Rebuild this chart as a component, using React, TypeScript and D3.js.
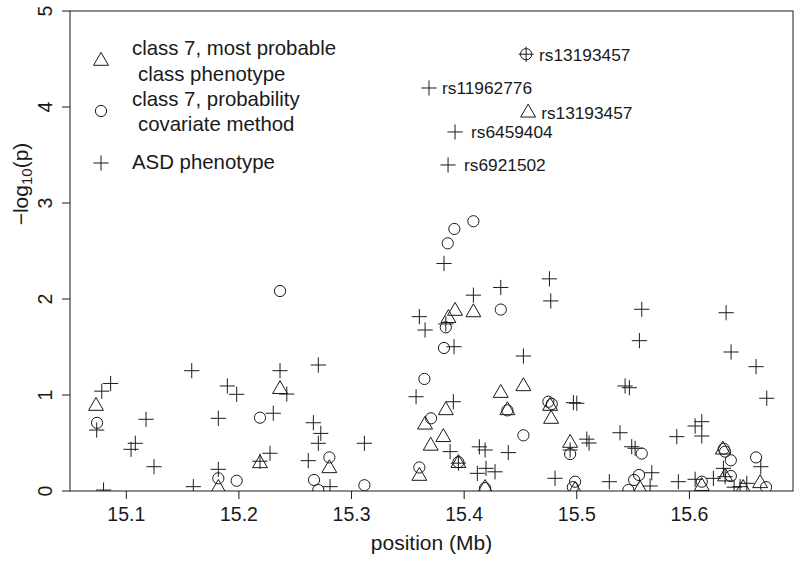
import React from "react";
import * as d3 from "d3";

// ---- data ----
const xTicks = [15.1, 15.2, 15.3, 15.4, 15.5, 15.6];
const yTicks = [0, 1, 2, 3, 4, 5];

// class 7, most probable class phenotype (triangles)
const triPos = [15.0731, 15.1817, 15.2187, 15.2365, 15.2803, 15.3919, 15.4082, 15.386, 15.3837, 15.3653, 15.3815, 15.3703, 15.3949, 15.3602, 15.4325, 15.4526, 15.4384, 15.4186, 15.4763, 15.4772, 15.4941, 15.4985, 15.4568, 15.6297, 15.6317, 15.5562, 15.611, 15.6628, 15.6477];
const triVal = [0.885, 0.03, 0.288, 1.06, 0.236, 1.875, 1.86, 1.8, 0.84, 0.69, 0.56, 0.47, 0.29, 0.156, 1.02, 1.09, 0.84, 0.03, 0.885, 0.75, 0.5, 0.01, 3.94, 0.43, 0.15, 0.02, 0.05, 0.08, 0.03];

// class 7, probability covariate method (circles)
const cirPos = [15.074, 15.1817, 15.198, 15.2187, 15.2365, 15.2803, 15.2667, 15.2705, 15.3114, 15.4082, 15.3913, 15.3854, 15.4325, 15.3837, 15.3821, 15.3647, 15.3706, 15.3949, 15.3602, 15.4384, 15.4526, 15.4186, 15.4748, 15.4778, 15.4941, 15.4985, 15.4965, 15.455, 15.5577, 15.5509, 15.5553, 15.5458, 15.6317, 15.6368, 15.6305, 15.6368, 15.6592, 15.6681, 15.611];
const cirVal = [0.71, 0.132, 0.107, 0.764, 2.083, 0.35, 0.115, 0.01, 0.06, 2.81, 2.73, 2.58, 1.89, 1.705, 1.49, 1.167, 0.757, 0.3, 0.245, 0.84, 0.58, 0.03, 0.93, 0.906, 0.385, 0.097, 0.04, 4.55, 0.39, 0.115, 0.167, 0.01, 0.41, 0.32, 0.44, 0.156, 0.35, 0.04, 0.097];

// ASD phenotype (crosses)
const asdPos = [15.0737, 15.0782, 15.0861, 15.0798, 15.1042, 15.108, 15.1175, 15.1246, 15.1581, 15.1595, 15.1817, 15.1897, 15.198, 15.1817, 15.2305, 15.2187, 15.2276, 15.2365, 15.2425, 15.2661, 15.2727, 15.2705, 15.2705, 15.2616, 15.2809, 15.3114, 15.3821, 15.4757, 15.4769, 15.4082, 15.4325, 15.3602, 15.3653, 15.3837, 15.391, 15.4526, 15.3573, 15.3904, 15.3875, 15.3949, 15.4135, 15.4186, 15.4117, 15.4194, 15.4274, 15.4392, 15.4807, 15.497, 15.5, 15.4941, 15.5089, 15.5109, 15.5577, 15.5556, 15.6326, 15.637, 15.6592, 15.6687, 15.5429, 15.5467, 15.611, 15.6051, 15.611, 15.5888, 15.5384, 15.5488, 15.5518, 15.5289, 15.5666, 15.5651, 15.5902, 15.6051, 15.6302, 15.6213, 15.6317, 15.645, 15.651, 15.6634, 15.6397, 15.3688, 15.3919, 15.3857, 15.455];
const asdVal = [0.635, 1.04, 1.12, 0.01, 0.434, 0.497, 0.747, 0.253, 1.253, 0.045, 0.757, 1.094, 1.007, 0.226, 0.81, 0.31, 0.393, 1.253, 1.01, 0.711, 0.6, 0.497, 1.3125, 0.316, 0.045, 0.497, 2.37, 2.21, 1.98, 2.04, 2.12, 1.816, 1.677, 1.74, 1.503, 1.406, 0.982, 0.93, 0.41, 0.29, 0.46, 0.427, 0.184, 0.236, 0.2, 0.4, 0.132, 0.92, 0.914, 0.427, 0.54, 0.5, 1.893, 1.566, 1.857, 1.448, 1.295, 0.966, 1.094, 1.076, 0.722, 0.677, 0.573, 0.566, 0.607, 0.461, 0.445, 0.097, 0.19, 0.052, 0.097, 0.122, 0.236, 0.132, 0.149, 0.045, 0.08, 0.253, 0.04, 4.198, 3.74, 3.396, 4.55];

// labelled SNPs
const snpNames = ["rs13193457", "rs11962776", "rs13193457", "rs6459404", "rs6921502"];
const snpPos = [15.455, 15.3688, 15.4568, 15.3919, 15.3857];
const snpVal = [4.55, 4.198, 3.94, 3.74, 3.396];

const legendLabels = [
  ["class 7, most probable", "class phenotype"],
  ["class 7, probability", "covariate method"],
  ["ASD phenotype"],
];

// ---- layout ----
const W = 800;
const H = 562;
const L = 70, R = 793, T = 11, B = 491;
const FONT = "'Liberation Sans', Arial, Helvetica, sans-serif";
const INK = "#1a1a1a";

const x = d3.scaleLinear().domain([15.05, 15.692]).range([L, R]);
const y = d3.scaleLinear().domain([0, 5]).range([B, T]);

const CR = 5.6; // circle radius
const XH = 7.6; // cross half size
const TR = 8.6; // triangle radius

const triPath = (cx: number, cy: number) => {
  const xc = TR * Math.sqrt(3) / 2;
  return `M${cx},${cy - TR}L${cx + xc},${cy + TR / 2}L${cx - xc},${cy + TR / 2}Z`;
};
const crossPath = (cx: number, cy: number) =>
  `M${cx - XH},${cy}H${cx + XH}M${cx},${cy - XH}V${cy + XH}`;

export default function App() {
  return (
    <svg
      width={W}
      height={H}
      viewBox={`0 0 ${W} ${H}`}
      style={{ position: "absolute", left: 0, top: 0, background: "#fff" }}
      fontFamily={FONT}
    >
      <rect x={0} y={0} width={W} height={H} fill="#fff" />
      <defs>
        <clipPath id="plot">
          <rect x={L} y={T} width={R - L} height={B - T} />
        </clipPath>
      </defs>

      {/* points */}
      <g clipPath="url(#plot)" fill="none" stroke={INK} strokeWidth={1}>
        {triPos.map((p, i) => (
          <path key={"t" + i} d={triPath(x(p), y(triVal[i]))} />
        ))}
        {cirPos.map((p, i) => (
          <circle key={"c" + i} cx={x(p)} cy={y(cirVal[i])} r={CR} />
        ))}
        {asdPos.map((p, i) => (
          <path key={"a" + i} d={crossPath(x(p), y(asdVal[i]))} />
        ))}
      </g>

      {/* SNP labels */}
      <g fontSize={17.3} fill={INK}>
        {snpNames.map((n, i) => (
          <text key={n + i} x={x(snpPos[i]) + (i === 3 || i === 4 ? 16 : 13)} y={y(snpVal[i]) + 6.5}>
            {n}
          </text>
        ))}
      </g>

      {/* box */}
      <rect x={L} y={T} width={R - L} height={B - T} fill="none" stroke={INK} strokeWidth={1} />

      {/* axes ticks */}
      <g stroke={INK} strokeWidth={1}>
        {xTicks.map((t) => (
          <line key={t} x1={x(t)} x2={x(t)} y1={B} y2={B + 8} />
        ))}
        {yTicks.map((t) => (
          <line key={t} x1={L - 8} x2={L} y1={y(t)} y2={y(t)} />
        ))}
      </g>
      <g fontSize={19.5} fill={INK} textAnchor="middle">
        {xTicks.map((t) => (
          <text key={t} x={x(t)} y={521}>
            {d3.format(".1f")(t)}
          </text>
        ))}
        {yTicks.map((t) => (
          <text key={t} transform={`translate(52,${y(t)}) rotate(-90)`}>
            {t}
          </text>
        ))}
      </g>
      <g fontSize={21} fill={INK} textAnchor="middle">
        <text x={(L + R) / 2} y={550}>position (Mb)</text>
        <text transform={`translate(28,184) rotate(-90)`}>
          −log<tspan fontSize={15} dy={4}>10</tspan>
          <tspan dy={-4}>(p)</tspan>
        </text>
      </g>

      {/* legend */}
      <g fill="none" stroke={INK} strokeWidth={1}>
        <path d={triPath(101, 61)} />
        <circle cx={101} cy={111} r={CR} />
        <path d={crossPath(101, 163)} />
      </g>
      <g fontSize={20.4} fill={INK}>
        <text x={132} y={55}>{legendLabels[0][0]}</text>
        <text x={138} y={81}>{legendLabels[0][1]}</text>
        <text x={132} y={106}>{legendLabels[1][0]}</text>
        <text x={138} y={131}>{legendLabels[1][1]}</text>
        <text x={132} y={169}>{legendLabels[2][0]}</text>
      </g>
    </svg>
  );
}
